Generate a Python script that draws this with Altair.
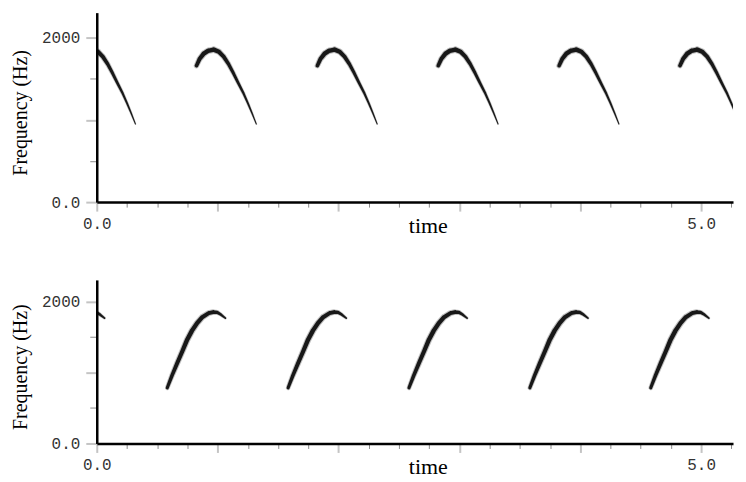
import altair as alt
import pandas as pd

# ---- data ----
# upper panel: one call contour (time offset from call onset in s, frequency in Hz, relative energy)
top_dt = [0, 0.025, 0.06, 0.095, 0.143, 0.185, 0.225, 0.265, 0.305, 0.345, 0.39, 0.425, 0.459, 0.495]
top_freq = [1660, 1740, 1806, 1840, 1855, 1830, 1770, 1680, 1570, 1450, 1320, 1205, 1085, 950]
top_energy = [0.8, 0.9, 1.0, 1.0, 1.0, 0.95, 0.85, 0.75, 0.65, 0.55, 0.45, 0.35, 0.25, 0.1]
top_onsets = [-0.175, 0.825, 1.825, 2.825, 3.825, 4.825]

# lower panel: reversed call contour
bot_dt = [0, 0.04, 0.083, 0.125, 0.165, 0.205, 0.247, 0.29, 0.343, 0.38, 0.413, 0.445, 0.481]
bot_freq = [783, 960, 1134, 1300, 1462, 1590, 1696, 1780, 1837, 1852, 1846, 1815, 1766]
bot_energy = [0.65, 0.8, 0.9, 0.95, 1.0, 1.0, 1.0, 0.95, 0.9, 0.85, 0.7, 0.5, 0.3]
bot_onsets = [-0.417, 0.583, 1.583, 2.583, 3.583, 4.583]

x_ticks = [0.0, 0.25, 0.5, 0.75, 1.0, 1.25, 1.5, 1.75, 2.0, 2.25, 2.5, 2.75,
           3.0, 3.25, 3.5, 3.75, 4.0, 4.25, 4.5, 4.75, 5.0, 5.25]
y_ticks = [0, 500, 1000, 1500, 2000]
x_max = 5.264
y_max = 2305


def build(dts, freqs, energies, onsets):
    rows = []
    for k, t0 in enumerate(onsets):
        for i, (dt, f, e) in enumerate(zip(dts, freqs, energies)):
            rows.append({"call": k, "i": i, "time": t0 + dt, "freq": f, "energy": e})
    return pd.DataFrame(rows)


top_df = build(top_dt, top_freq, top_energy, top_onsets)
bot_df = build(bot_dt, bot_freq, bot_energy, bot_onsets)

x_axis = alt.Axis(
    values=x_ticks,
    labelExpr="datum.value == 0 ? '0.0' : (datum.value == 5 ? '5.0' : '')",
    title="time",
    grid=False,
    domainColor="black",
    domainWidth=2.5,
    tickColor={"condition": {"test": "datum.value % 1 === 0", "value": "#c4c4c4"}, "value": "#8a8a8a"},
    tickWidth={"condition": {"test": "datum.value % 1 === 0", "value": 2}, "value": 1},
    tickSize={"condition": {"test": "datum.value % 1 === 0", "value": 9}, "value": 5},
    labelFont="Liberation Mono",
    labelFontSize=16,
    labelColor="#333333",
    labelPadding=4,
    labelFlush=False,
    labelOverlap=False,
    titleFont="Liberation Serif",
    titleFontSize=22,
    titleFontWeight="normal",
    titleColor="black",
    titleX=332,
    titleY=30,
    titleBaseline="alphabetic",
)


def y_axis(title_y):
    return alt.Axis(
        values=y_ticks,
        labelExpr="datum.value == 0 ? '0.0' : (datum.value == 2000 ? '2000' : '')",
        title="Frequency (Hz)",
        grid=False,
        domainColor="black",
        domainWidth=2.5,
        tickColor={"condition": {"test": "datum.value % 1000 === 0", "value": "#c4c4c4"}, "value": "#8a8a8a"},
        tickWidth={"condition": {"test": "datum.value % 1000 === 0", "value": 2}, "value": 1},
        tickSize={"condition": {"test": "datum.value % 1000 === 0", "value": 11}, "value": 7},
        labelFont="Liberation Mono",
        labelFontSize=16,
        labelColor="#333333",
        labelPadding=6,
        labelOverlap=False,
        titleFont="Liberation Serif",
        titleFontSize=20,
        titleFontWeight="normal",
        titleColor="black",
        titleX=-70,
        titleY=title_y,
        titleAlign="center",
        titleBaseline="alphabetic",
        titleAngle=270,
    )


def panel(df, h, title_y):
    base = alt.Chart(df).encode(
        x=alt.X("time:Q", scale=alt.Scale(domain=[0, x_max], nice=False, zero=False), axis=x_axis),
        y=alt.Y("freq:Q", scale=alt.Scale(domain=[0, y_max], nice=False), axis=y_axis(title_y)),
        detail="call:N",
        order="i:Q",
    )
    halo = base.mark_trail(color="#222222", opacity=0.28, clip=True).encode(
        size=alt.Size("energy:Q", scale=alt.Scale(domain=[0, 1], range=[1.2, 6.5]), legend=None),
    )
    core = base.mark_trail(color="black", opacity=0.88, clip=True).encode(
        size=alt.Size("energy:Q", scale=alt.Scale(domain=[0, 1], range=[0.5, 4.4]), legend=None),
    )
    return alt.layer(halo, core).resolve_scale(size="independent").properties(width=638, height=h)


top = panel(top_df, 190, 100)
bottom = panel(bot_df, 164, 87)

chart = alt.vconcat(top, bottom, spacing=44).properties(
    padding={"left": 3, "top": 4, "right": 5, "bottom": 5},
    background="white",
).configure_view(stroke=None)

chart.save("out.html", embed_options={"renderer": "svg", "actions": False})
